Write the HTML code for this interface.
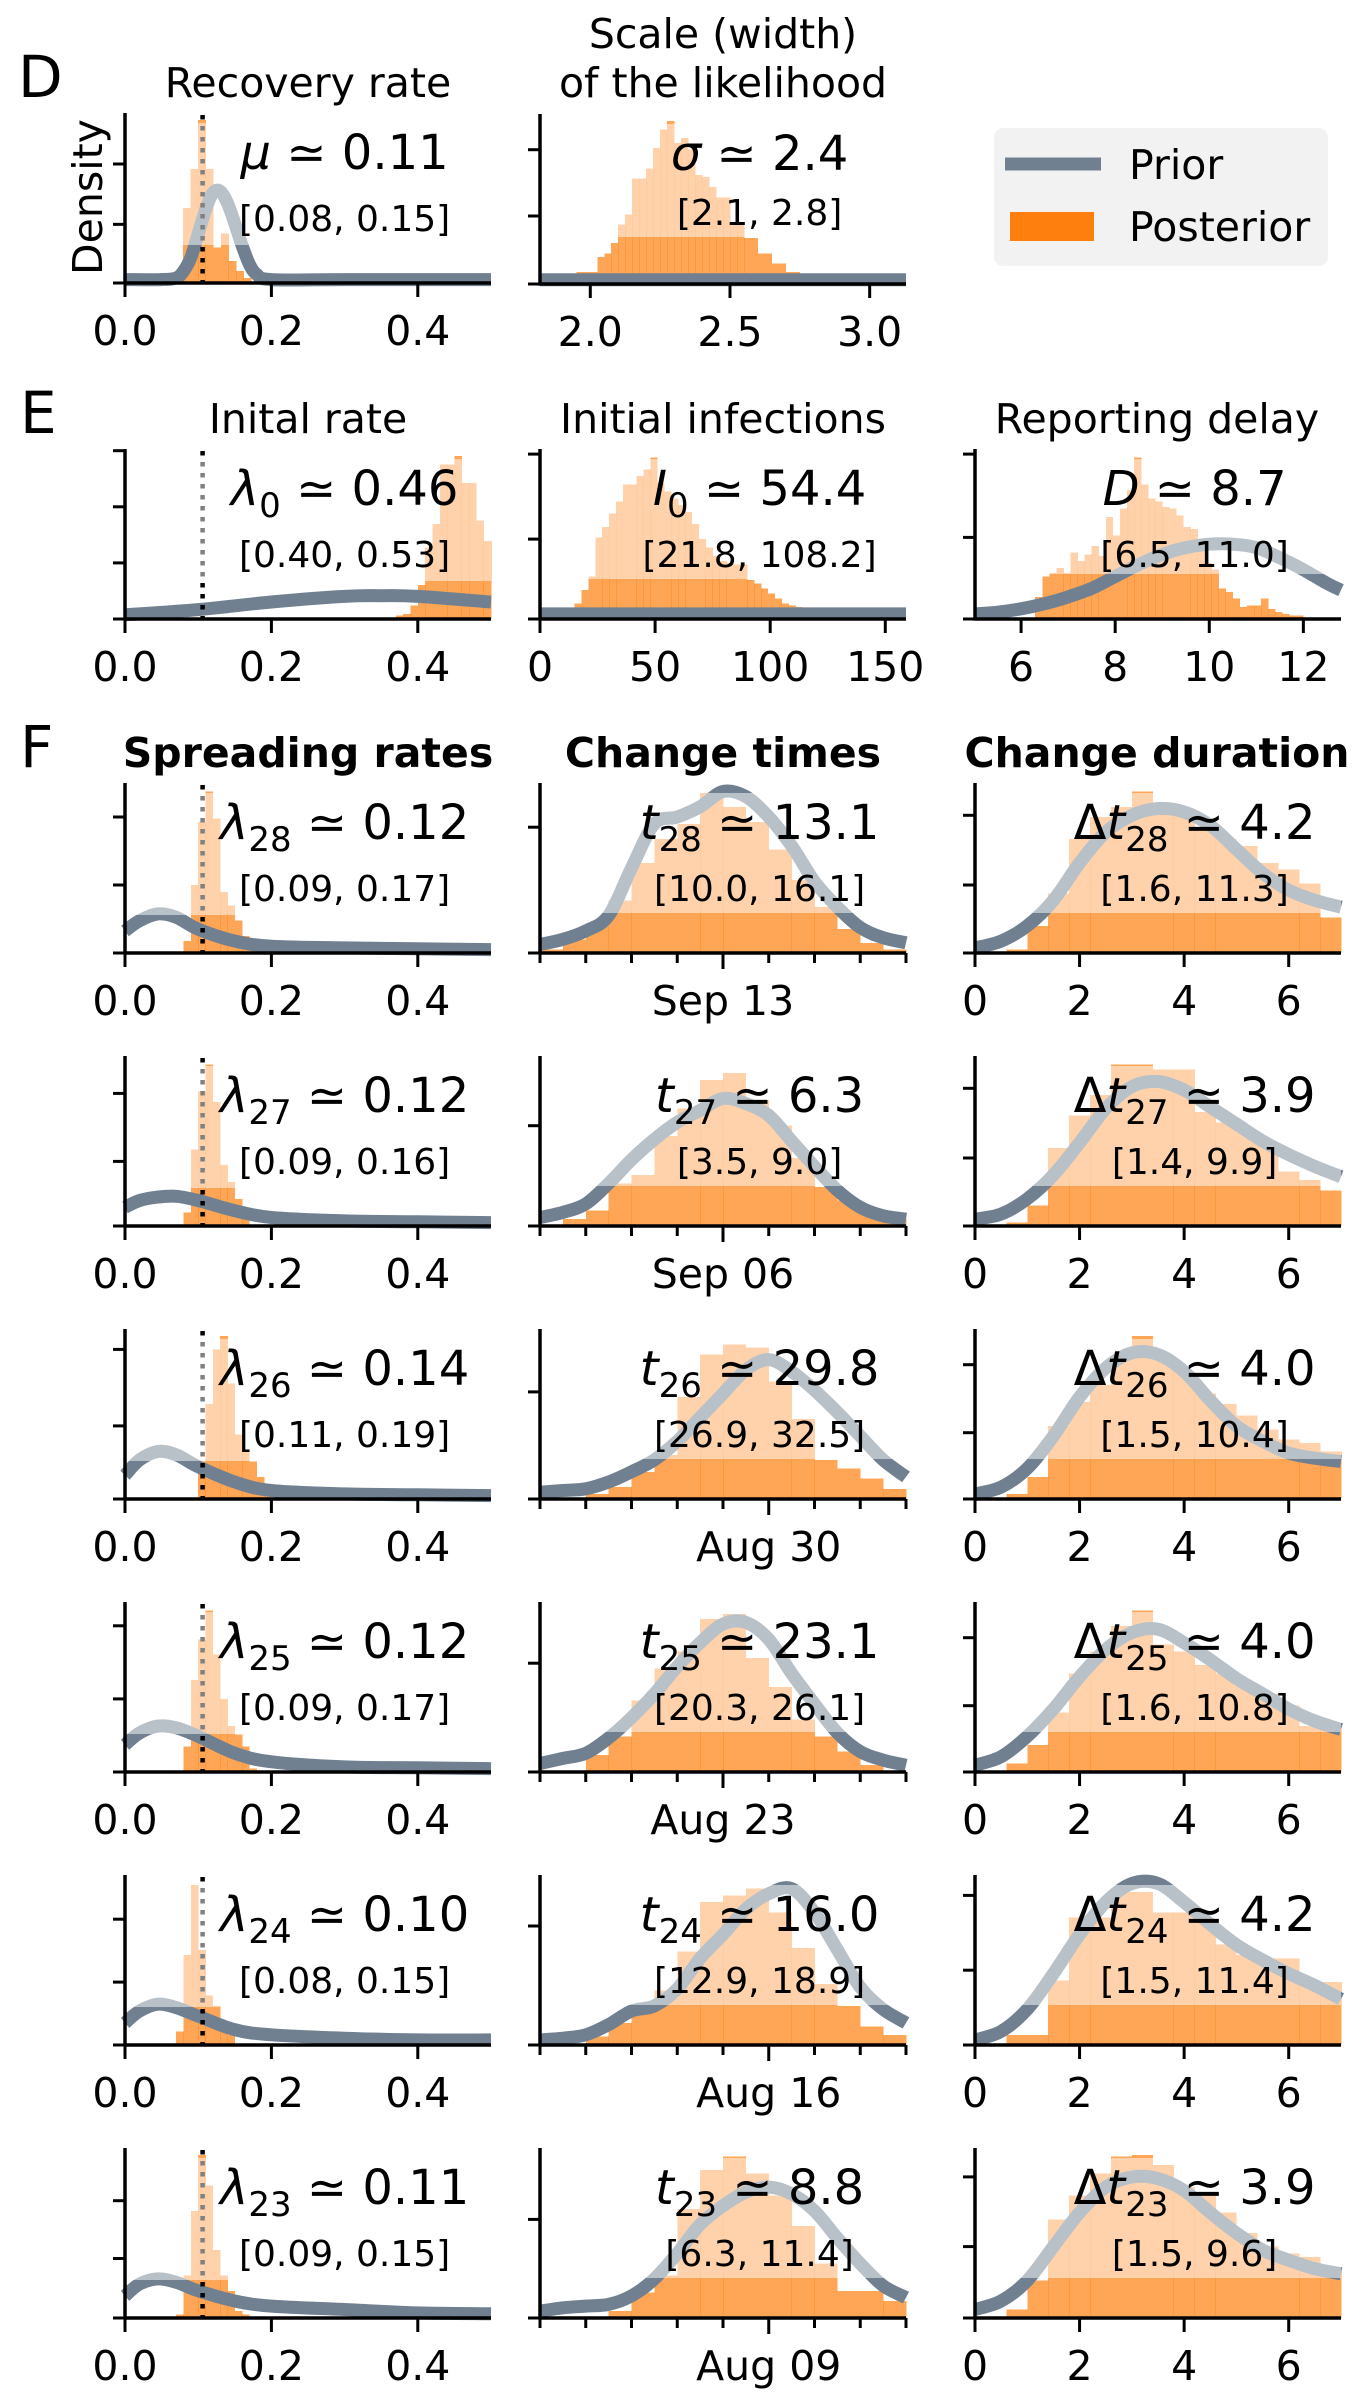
<!DOCTYPE html>
<html><head><meta charset="utf-8">
<style>
html,body{margin:0;padding:0;background:#fff;}
svg{display:block;font-family:"DejaVu Sans","Liberation Sans",sans-serif;}
</style></head>
<body>
<svg id="fig" width="1367" height="2404" viewBox="0 0 1367 2404" xmlns="http://www.w3.org/2000/svg">
<text x="18" y="97" font-size="58">D</text>
<text x="20" y="433" font-size="58">E</text>
<text x="20" y="767" font-size="58">F</text>
<text x="308" y="97" font-size="41" text-anchor="middle">Recovery rate</text>
<text x="723" y="48" font-size="41" text-anchor="middle">Scale (width)</text>
<text x="723" y="97" font-size="41" text-anchor="middle">of the likelihood</text>
<text x="308" y="433" font-size="41" text-anchor="middle">Inital rate</text>
<text x="723" y="433" font-size="41" text-anchor="middle">Initial infections</text>
<text x="1157" y="433" font-size="41" text-anchor="middle">Reporting delay</text>
<text x="308" y="767" font-size="41" font-weight="bold" text-anchor="middle">Spreading rates</text>
<text x="723" y="767" font-size="41" font-weight="bold" text-anchor="middle">Change times</text>
<text x="1157" y="767" font-size="41" font-weight="bold" text-anchor="middle">Change duration</text>
<text x="0" y="0" font-size="41" text-anchor="middle" transform="translate(102,197) rotate(-90)">Density</text>
<g>
<rect x="994" y="128" width="334" height="138" rx="9" fill="#f2f2f2"/>
<line x1="1005" y1="164" x2="1101" y2="164" stroke="#708090" stroke-width="13"/>
<text x="1129" y="179" font-size="41">Prior</text>
<rect x="1010" y="212" width="84" height="29" fill="#ff7f0e"/>
<text x="1129" y="241" font-size="41">Posterior</text>
</g>
</svg>
<script>
// ---------- data ----------
const lamPriorX = [0,0.02,0.045,0.07,0.1,0.15,0.2,0.3,0.4,0.5];
const tPriorX = [0,0.5,1,1.5,2,2.5,3,3.5,4,4.5,5,5.5,6,6.5,7,7.5,8];
const dtPriorX = [0,0.5,1,1.5,2,2.5,3,3.5,4,4.5,5,5.5,6,6.5,7];

const muHist = [0.44,0.67,0.96,0.67,0.21,0.29,0.13,0.07,0.03];
const muPriorX = [0,0.05,0.07,0.08,0.09,0.10,0.11,0.12,0.13,0.14,0.15,0.16,0.17,0.18,0.2,0.3,0.5];
const muPriorY = [0.02,0.02,0.03,0.07,0.15,0.29,0.43,0.53,0.54,0.47,0.35,0.22,0.11,0.05,0.02,0.02,0.02];

const sigmaHist = [0.05,0.05,0.07,0.07,0.07,0.16,0.18,0.24,0.35,0.41,0.62,0.62,0.68,0.80,0.91,0.96,0.83,0.86,0.79,0.64,0.63,0.57,0.51,0.51,0.35,0.35,0.27,0.27,0.18,0.18,0.12,0.12,0.07,0.07,0.05,0.05,0.04,0.04];
const sigmaPriorX = [1.8,3.2];
const sigmaPriorY = [0.025,0.025];

const lam0Hist = [0.02,0.03,0.08,0.20,0.42,0.56,0.91,0.91,0.96,0.80,0.80,0.58,0.46];
const lam0PriorX = [0,0.1,0.2,0.3,0.35,0.4,0.5];
const lam0PriorY = [0.025,0.055,0.10,0.133,0.137,0.133,0.10];

const i0Hist = [0.05,0,0,0.09,0.17,0.25,0.48,0.54,0.62,0.69,0.79,0.79,0.84,0.88,0.95,0.80,0.75,0.71,0.67,0.63,0.56,0.47,0.42,0.37,0.34,0.33,0.32,0.32,0.23,0.21,0.18,0.15,0.12,0.09,0.08,0.07,0.06,0.06];
const i0PriorX = [0,159];
const i0PriorY = [0.03,0.03];

const delayHist = [0.13,0.25,0.27,0.30,0.27,0.39,0.34,0.38,0.43,0.37,0.60,0.49,0.65,0.76,0.95,0.79,0.71,0.69,0.66,0.65,0.61,0.54,0.53,0.46,0.33,0.29,0.18,0.16,0.12,0.07,0.08,0.08,0.12,0.06,0.04,0.03,0.02,0.02];
const delayPriorX = [5.0,5.5,6,6.5,7,7.5,8,8.5,9,9.5,10,10.5,11,11.5,12,12.5,12.8];
const delayPriorY = [0.03,0.04,0.06,0.09,0.13,0.18,0.25,0.32,0.38,0.42,0.44,0.44,0.42,0.36,0.29,0.21,0.17];

const lam28Hist = [0.07,0.40,0.77,0.95,0.79,0.36,0.28,0.19,0.10,0.02];
const lam27Hist = [0.08,0.45,0.79,0.95,0.73,0.36,0.26,0.16,0.04];
const lam26Hist = [0.01,0.22,0.56,0.88,0.96,0.68,0.38,0.28,0.22,0.13,0.04];
const lam25Hist = [0.15,0.54,0.78,0.95,0.69,0.43,0.27,0.22,0.15,0.02];
const lam24Hist = [0.08,0.53,0.94,0.56,0.29,0.23,0.12,0.06];
const lam23Hist = [0.02,0.25,0.63,0.96,0.78,0.40,0.25,0.16,0.04,0.02];
const lam28Prior = [0.13,0.19,0.23,0.21,0.14,0.07,0.04,0.03,0.025,0.02];
const lam27Prior = [0.11,0.15,0.17,0.175,0.15,0.09,0.05,0.03,0.025,0.02];
const lam26Prior = [0.14,0.23,0.28,0.26,0.19,0.10,0.05,0.03,0.025,0.02];
const lam25Prior = [0.16,0.23,0.27,0.26,0.21,0.11,0.06,0.03,0.025,0.02];
const lam24Prior = [0.13,0.20,0.24,0.22,0.17,0.09,0.06,0.04,0.03,0.03];
const lam23Prior = [0.13,0.20,0.23,0.21,0.16,0.10,0.07,0.05,0.03,0.025];

const t28Hist = [0.02,0.08,0.16,0.31,0.53,0.67,0.76,0.94,0.86,0.77,0.61,0.43,0.27,0.14,0.06,0.02];
const t27Hist = [0.01,0.04,0.09,0.25,0.30,0.53,0.69,0.86,0.90,0.74,0.59,0.40,0.23,0.15,0.09,0.04];
const t26Hist = [0.01,0.01,0.03,0.07,0.16,0.26,0.60,0.85,0.91,0.89,0.69,0.47,0.23,0.18,0.12,0.06];
const t25Hist = [0.01,0.01,0.10,0.21,0.42,0.61,0.71,0.90,0.93,0.67,0.50,0.31,0.21,0.12,0.04,0.01];
const t24Hist = [0.01,0.01,0.05,0.13,0.21,0.32,0.55,0.84,0.88,0.92,0.78,0.57,0.36,0.23,0.11,0.06];
const t23Hist = [0.01,0.01,0.01,0.04,0.15,0.25,0.64,0.87,0.95,0.85,0.72,0.54,0.32,0.16,0.16,0.10];
const t28Prior = [0.05,0.08,0.13,0.22,0.50,0.76,0.80,0.86,0.95,0.92,0.80,0.63,0.42,0.27,0.15,0.09,0.06];
const t27Prior = [0.05,0.08,0.13,0.25,0.39,0.51,0.61,0.68,0.75,0.72,0.65,0.50,0.35,0.21,0.11,0.06,0.04];
const t26Prior = [0.04,0.05,0.06,0.10,0.16,0.23,0.34,0.48,0.62,0.76,0.82,0.75,0.64,0.51,0.37,0.23,0.13];
const t25Prior = [0.05,0.08,0.11,0.20,0.32,0.46,0.62,0.76,0.87,0.88,0.78,0.58,0.40,0.23,0.12,0.07,0.04];
const t24Prior = [0.03,0.04,0.06,0.12,0.20,0.23,0.33,0.51,0.65,0.80,0.89,0.92,0.78,0.56,0.34,0.21,0.13];
const t23Prior = [0.04,0.06,0.07,0.08,0.13,0.23,0.38,0.55,0.66,0.74,0.77,0.73,0.63,0.47,0.32,0.19,0.12];

const dt28Hist = [0.02,0.16,0.35,0.67,0.80,0.86,0.95,0.88,0.82,0.73,0.67,0.63,0.53,0.49,0.41,0.21];
const dt27Hist = [0.02,0.12,0.46,0.65,0.77,0.95,0.95,0.92,0.92,0.67,0.61,0.55,0.48,0.32,0.27,0.21];
const dt26Hist = [0.03,0.13,0.43,0.57,0.67,0.83,0.96,0.83,0.75,0.62,0.56,0.49,0.41,0.35,0.33,0.28];
const dt25Hist = [0.05,0.16,0.35,0.58,0.71,0.86,0.95,0.75,0.71,0.63,0.58,0.52,0.46,0.39,0.27,0.25];
const dt24Hist = [0.06,0.06,0.38,0.75,0.75,0.90,0.90,0.78,0.78,0.72,0.59,0.53,0.51,0.51,0.37,0.37];
const dt23Hist = [0.05,0.22,0.58,0.72,0.85,0.95,0.96,0.90,0.77,0.72,0.62,0.50,0.42,0.38,0.36,0.30];
const dt28Prior = [0.03,0.07,0.16,0.31,0.53,0.71,0.81,0.85,0.83,0.75,0.61,0.47,0.37,0.31,0.27];
const dt27Prior = [0.04,0.07,0.16,0.30,0.49,0.69,0.82,0.85,0.80,0.70,0.60,0.50,0.42,0.35,0.29];
const dt26Prior = [0.03,0.07,0.18,0.37,0.60,0.77,0.86,0.85,0.75,0.58,0.43,0.34,0.27,0.24,0.22];
const dt25Prior = [0.04,0.09,0.21,0.37,0.56,0.72,0.82,0.84,0.76,0.66,0.55,0.46,0.37,0.30,0.25];
const dt24Prior = [0.03,0.08,0.21,0.42,0.65,0.84,0.95,0.95,0.84,0.71,0.59,0.50,0.42,0.35,0.27];
const dt23Prior = [0.05,0.10,0.22,0.42,0.62,0.77,0.83,0.82,0.75,0.62,0.50,0.40,0.34,0.29,0.26];

const lamTicks = [0, 0.2, 0.4];
const lamTickLabels = ["0.0","0.2","0.4"];
const sigmaTicks = [2.0, 2.5, 3.0];
const sigmaTickLabels = ["2.0","2.5","3.0"];
const i0Ticks = [0, 50, 100, 150];
const i0TickLabels = ["0","50","100","150"];
const delayTicks = [6, 8, 10, 12];
const delayTickLabels = ["6","8","10","12"];
const dtTicks = [0, 2, 4, 6];
const dtTickLabels = ["0","2","4","6"];
const dateTicks = [0,1,2,3,4,5,6,7,8];
const dateLabels = ["Sep 13","Sep 06","Aug 30","Aug 23","Aug 16","Aug 09"];
const dateMajor = [4,4,5,4,5,5];
const lamSubs = ["28","27","26","25","24","23"];
const lamVals = ["0.12","0.12","0.14","0.12","0.10","0.11"];
const lamCIs = ["[0.09, 0.17]","[0.09, 0.16]","[0.11, 0.19]","[0.09, 0.17]","[0.08, 0.15]","[0.09, 0.15]"];
const tVals = ["13.1","6.3","29.8","23.1","16.0","8.8"];
const tCIs = ["[10.0, 16.1]","[3.5, 9.0]","[26.9, 32.5]","[20.3, 26.1]","[12.9, 18.9]","[6.3, 11.4]"];
const dtVals = ["4.2","3.9","4.0","4.0","4.2","3.9"];
const dtCIs = ["[1.6, 11.3]","[1.4, 9.9]","[1.5, 10.4]","[1.6, 10.8]","[1.5, 11.4]","[1.5, 9.6]"];
const lamHists = [lam28Hist,lam27Hist,lam26Hist,lam25Hist,lam24Hist,lam23Hist];
const lamHistLo = [0.08,0.08,0.09,0.08,0.07,0.07];
const lamPriors = [lam28Prior,lam27Prior,lam26Prior,lam25Prior,lam24Prior,lam23Prior];
const tHists = [t28Hist,t27Hist,t26Hist,t25Hist,t24Hist,t23Hist];
const tPriors = [t28Prior,t27Prior,t26Prior,t25Prior,t24Prior,t23Prior];
const dtHists = [dt28Hist,dt27Hist,dt26Hist,dt25Hist,dt24Hist,dt23Hist];
const dtPriors = [dt28Prior,dt27Prior,dt26Prior,dt25Prior,dt24Prior,dt23Prior];
const lamYTicks = [[0,0.40,0.80],[0,0.38,0.78],[0,0.43,0.88],[0,0.43,0.86],[0,0.37,0.74],[0,0.35,0.69]];
const tYTicks = [[0,0.74],[0,0.59],[0,0.63],[0,0.64],[0,0.70],[0,0.58]];
const dtYTicks = [[0,0.40,0.81],[0,0.40,0.81],[0,0.39,0.79],[0,0.39,0.79],[0,0.44,0.88],[0,0.42,0.83]];
const trueRate = 0.106;

// ---------- drawing ----------
const NS = "http://www.w3.org/2000/svg";
const svg = document.getElementById("fig");
const COLW = 366, H = 170;
const colX = [125, 540, 975];

function el(tag, attrs, parent) {
  const e = document.createElementNS(NS, tag);
  for (const k in attrs) e.setAttribute(k, attrs[k]);
  (parent || svg).appendChild(e);
  return e;
}
function smoothPath(pts) {
  let d = "M" + pts[0][0].toFixed(1) + "," + pts[0][1].toFixed(1);
  for (let i = 0; i < pts.length - 1; i++) {
    const p0 = pts[Math.max(0, i - 1)], p1 = pts[i], p2 = pts[i + 1], p3 = pts[Math.min(pts.length - 1, i + 2)];
    const c1x = p1[0] + (p2[0] - p0[0]) / 6, c1y = p1[1] + (p2[1] - p0[1]) / 6;
    const c2x = p2[0] - (p3[0] - p1[0]) / 6, c2y = p2[1] - (p3[1] - p1[1]) / 6;
    d += " C" + c1x.toFixed(1) + "," + c1y.toFixed(1) + " " + c2x.toFixed(1) + "," + c2y.toFixed(1) + " " + p2[0].toFixed(1) + "," + p2[1].toFixed(1);
  }
  return d;
}

function drawPanel(p) {
  const g = el("g", {});
  
  
  const x0 = colX[p.col], base = p.base, top = base - H;
  const sx = v => x0 + (v - p.dom[0]) / (p.dom[1] - p.dom[0]) * COLW;
  const sy = f => base - f * H;
  // histogram
  p.hist.forEach((h, i) => {
    if (h <= 0) return;
    const a = sx(p.lo + i * p.bw), b = sx(p.lo + (i + 1) * p.bw);
    const r = el("rect", {x: a.toFixed(2), y: sy(h).toFixed(2), width: (b - a + 0.3).toFixed(2), height: (h * H).toFixed(2), fill: "rgba(255,127,14,0.7)", "shape-rendering": "crispEdges"}, g);
    
    
  });
  // prior
  const pts = p.px.map((v, i) => [sx(v), sy(p.py[i])]);
  const pl = el("path", {d: smoothPath(pts), fill: "none", stroke: "#708090", "stroke-width": 13}, g);
  
  
  // dotted true value
  if (p.dotted) {
    const dl = el("line", {x1: sx(trueRate), x2: sx(trueRate), y1: top + 2, y2: base, stroke: "#000", "stroke-width": 4.5, "stroke-dasharray": "4.5 6.5"}, g);
    
    
  }
  // text background overlay
  const ov = el("rect", {x: x0, y: top + 10, width: COLW, height: H - 10 - p.cut, fill: "rgba(255,255,255,0.5)"}, g);
  
  
  // annotation
  const cx = x0 + 0.6 * COLW;
  const t = el("text", {x: cx, y: top + 56, "font-size": 48, "text-anchor": "middle"}, g);
  
  
  if (p.pre) { const s0 = el("tspan", {}, t); s0.textContent = p.pre; }
  const s1 = el("tspan", {"font-style": "italic"}, t); s1.textContent = p.sym;
  if (p.sub) {
    const s2 = el("tspan", {"font-size": 34, dy: 12}, t); s2.textContent = p.sub;
    const s3 = el("tspan", {dy: -12}, t); s3.textContent = " \u2243 " + p.val;
  } else {
    const s3 = el("tspan", {}, t); s3.textContent = " \u2243 " + p.val;
  }
  const ci = el("text", {x: cx, y: top + p.ciy, "font-size": 36, "text-anchor": "middle"}, g);
  
  
  ci.textContent = p.ci;
  // spines
  const ls = el("line", {x1: x0, x2: x0, y1: top, y2: base + 1.5, stroke: "#000", "stroke-width": 3.5}, g);
  
  
  const bs = el("line", {x1: x0 - 1.5, x2: x0 + COLW, y1: base, y2: base, stroke: "#000", "stroke-width": 3.5}, g);
  
  
  p.yt.forEach(f => {
    const tk = el("line", {x1: x0 - 12, x2: x0, y1: sy(f), y2: sy(f), stroke: "#000", "stroke-width": 3}, g);
    
    
  });
  p.xt.forEach((v, i) => {
    const len = p.major === undefined ? 14 : (i === p.major ? 16 : 10);
    const tk = el("line", {x1: sx(v), x2: sx(v), y1: base, y2: base + len, stroke: "#000", "stroke-width": 3}, g);
    
    
    if (p.xl && p.xl[i]) {
      const tl = el("text", {x: sx(v), y: base + 62, "font-size": 41, "text-anchor": "middle"}, g);
      
      
      tl.textContent = p.xl[i];
    }
  });
}

drawPanel({name: "recovery-rate-panel", col: 0, base: 283, dom: [0, 0.5], lo: 0.079, bw: 0.0104, hist: muHist, px: muPriorX, py: muPriorY, dotted: true, cut: 38, sym: "\u03bc", val: "0.11", ci: "[0.08, 0.15]", ciy: 118, yt: [0, 0.345, 0.70], xt: lamTicks, xl: lamTickLabels});
drawPanel({name: "likelihood-scale-panel", col: 1, base: 284, dom: [1.82, 3.13], lo: 1.9, bw: 0.025, hist: sigmaHist, px: sigmaPriorX.map(v => Math.min(Math.max(v, 1.82), 3.13)), py: sigmaPriorY, cut: 47, sym: "\u03c3", val: "2.4", ci: "[2.1, 2.8]", ciy: 111, yt: [0, 0.40, 0.79], xt: sigmaTicks, xl: sigmaTickLabels});
drawPanel({name: "initial-rate-panel", col: 0, base: 619, dom: [0, 0.5], lo: 0.37, bw: 0.01, hist: lam0Hist, px: lam0PriorX, py: lam0PriorY, dotted: true, cut: 38, sym: "\u03bb", sub: "0", val: "0.46", ci: "[0.40, 0.53]", ciy: 118, yt: [0, 0.33, 0.66, 0.99], xt: lamTicks, xl: lamTickLabels});
drawPanel({name: "initial-infections-panel", col: 1, base: 619, dom: [0, 159], lo: 6, bw: 3, hist: i0Hist, px: i0PriorX, py: i0PriorY, cut: 40, sym: "I", sub: "0", val: "54.4", ci: "[21.8, 108.2]", ciy: 118, yt: [0, 0.47, 0.97], xt: i0Ticks, xl: i0TickLabels});
drawPanel({name: "reporting-delay-panel", col: 2, base: 619, dom: [5.02, 12.8], lo: 6.3, bw: 0.15, hist: delayHist, px: delayPriorX, py: delayPriorY, cut: 45, sym: "D", val: "8.7", ci: "[6.5, 11.0]", ciy: 118, yt: [0, 0.48, 0.97], xt: delayTicks, xl: delayTickLabels});

for (let r = 0; r < 6; r++) {
  const base = 953 + 273 * r;
  drawPanel({name: "spreading-rate-panel-" + lamSubs[r], col: 0, base: base, dom: [0, 0.5], lo: lamHistLo[r], bw: 0.01, hist: lamHists[r], px: lamPriorX, py: lamPriors[r], dotted: true, cut: 38, sym: "\u03bb", sub: lamSubs[r], val: lamVals[r], ci: lamCIs[r], ciy: 118, yt: lamYTicks[r], xt: lamTicks, xl: lamTickLabels});
  const dl = dateTicks.map((d, i) => i === dateMajor[r] ? dateLabels[r] : "");
  drawPanel({name: "change-time-panel-" + lamSubs[r], col: 1, base: base, dom: [0, 8], lo: 0, bw: 0.5, hist: tHists[r], px: tPriorX, py: tPriors[r], cut: 40, sym: "t", sub: lamSubs[r], val: tVals[r], ci: tCIs[r], ciy: 118, yt: tYTicks[r], xt: dateTicks, xl: dl, major: dateMajor[r]});
  drawPanel({name: "change-duration-panel-" + lamSubs[r], col: 2, base: base, dom: [0, 7], lo: 0.6, bw: 0.4, hist: dtHists[r], px: dtPriorX, py: dtPriors[r], cut: 40, pre: "\u0394", sym: "t", sub: lamSubs[r], val: dtVals[r], ci: dtCIs[r], ciy: 118, yt: dtYTicks[r], xt: dtTicks, xl: dtTickLabels});
}
</script>
</body></html>
